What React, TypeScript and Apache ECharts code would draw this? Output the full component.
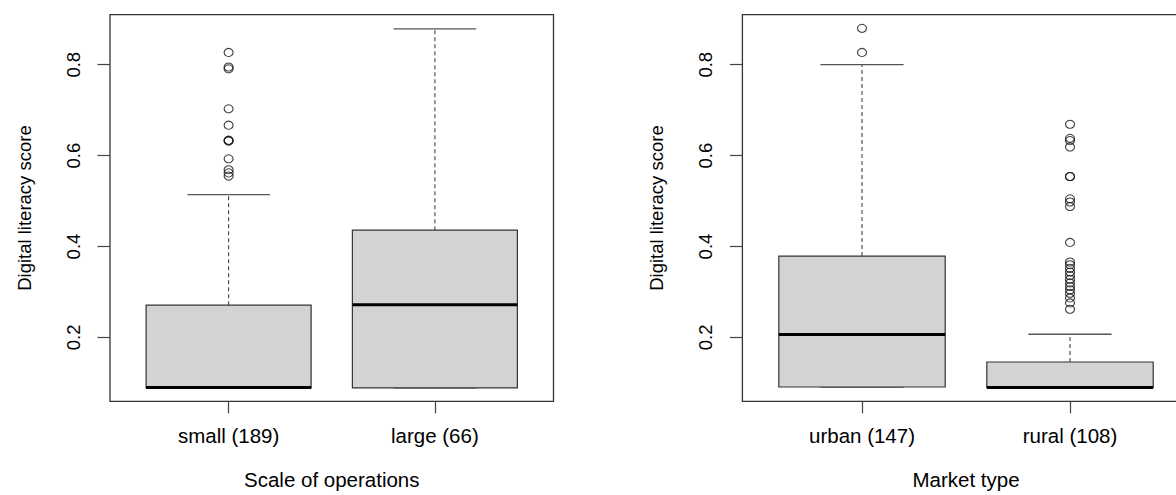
import React, { useEffect, useRef } from "react";
import * as echarts from "echarts";

const FONT = "'Liberation Sans', Arial, sans-serif";

// Left panel: scale of operations
const scaleCategories = ["small (189)", "large (66)"];
// [lower whisker, Q1, median, Q3, upper whisker]
const scaleStats = [
  [0.089, 0.089, 0.09, 0.271, 0.514],
  [0.089, 0.089, 0.272, 0.436, 0.879],
];
const scaleOutliers = [
  [0.827, 0.795, 0.791, 0.703, 0.667, 0.634, 0.633, 0.632, 0.593, 0.569, 0.562, 0.555],
  [],
];

// Right panel: market type
const marketCategories = ["urban (147)", "rural (108)"];
const marketStats = [
  [0.091, 0.091, 0.2065, 0.379, 0.8],
  [0.09, 0.09, 0.09, 0.146, 0.207],
];
const marketOutliers = [
  [0.88, 0.827],
  [
    0.669, 0.638, 0.633, 0.619, 0.554, 0.554, 0.505, 0.498, 0.488, 0.409, 0.366, 0.36,
    0.352, 0.344, 0.336, 0.328, 0.32, 0.312, 0.305, 0.297, 0.287, 0.276, 0.262,
  ],
];

const yTicks = [0.2, 0.4, 0.6, 0.8];
const xTicks = [1, 2];
const yTitle = "Digital literacy score";
const xTitles = ["Scale of operations", "Market type"];

const renderBox = (params: any, api: any) => {
  const x = api.value(0);
  const lo = api.value(1);
  const q1 = api.value(2);
  const med = api.value(3);
  const q3 = api.value(4);
  const hi = api.value(5);
  const half = api.size([0.8, 0])[0] / 2;
  const cap = api.size([0.4, 0])[0] / 2;
  const [cx, yLo] = api.coord([x, lo]);
  const yQ1 = api.coord([x, q1])[1];
  const yMed = api.coord([x, med])[1];
  const yQ3 = api.coord([x, q3])[1];
  const yHi = api.coord([x, hi])[1];
  const whisker = { stroke: "#444", lineWidth: 1.1, lineDash: [4, 3] };
  const capStyle = { stroke: "#555", lineWidth: 1.3 };
  return {
    type: "group",
    children: [
      { type: "line", shape: { x1: cx, y1: yQ3, x2: cx, y2: yHi }, style: whisker },
      { type: "line", shape: { x1: cx, y1: yQ1, x2: cx, y2: yLo }, style: whisker },
      { type: "line", shape: { x1: cx - cap, y1: yHi, x2: cx + cap, y2: yHi }, style: capStyle },
      { type: "line", shape: { x1: cx - cap, y1: yLo, x2: cx + cap, y2: yLo }, style: capStyle },
      {
        type: "rect",
        shape: { x: cx - half, y: yQ3, width: half * 2, height: yQ1 - yQ3 },
        style: { fill: "#d3d3d3", stroke: "#333", lineWidth: 1.2 },
      },
      {
        type: "line",
        shape: { x1: cx - half, y1: yMed, x2: cx + half, y2: yMed },
        style: { stroke: "#000", lineWidth: 3 },
      },
    ],
  };
};

const panels = [
  { cats: scaleCategories, stats: scaleStats, outliers: scaleOutliers, left: 110, width: 443.5 },
  { cats: marketCategories, stats: marketStats, outliers: marketOutliers, left: 742.4, width: 447.2 },
];

const buildOption = () => ({
  animation: false,
  backgroundColor: "#fff",
  textStyle: { fontFamily: FONT },
  grid: panels.map((p) => ({
    left: p.left,
    top: 14.7,
    width: p.width,
    height: 391.3,
    show: true,
    borderColor: "#333",
    borderWidth: 1.3,
    backgroundColor: "transparent",
  })),
  xAxis: panels.map((p, i) => ({
    gridIndex: i,
    type: "value",
    min: 0.425,
    max: 2.575,
    name: xTitles[i],
    nameLocation: "middle",
    nameGap: 67.6,
    nameTextStyle: { fontSize: 20.5, color: "#000", fontFamily: FONT },
    axisLine: { show: false },
    splitLine: { show: false },
    axisTick: { show: true, customValues: xTicks, length: 12, lineStyle: { color: "#444", width: 1.2 } },
    axisLabel: {
      customValues: xTicks,
      formatter: (v: number) => p.cats[Math.round(v) - 1],
      margin: 23.1,
      fontSize: 20.5,
      color: "#000",
      fontFamily: FONT,
    },
  })),
  yAxis: panels.map((p, i) => ({
    gridIndex: i,
    type: "value",
    min: 0.0593,
    max: 0.91,
    name: yTitle,
    nameLocation: "middle",
    nameRotate: 90,
    nameGap: 76,
    nameTextStyle: { fontSize: 18.5, color: "#000", fontFamily: FONT },
    axisLine: { show: false },
    splitLine: { show: false },
    axisTick: { show: true, customValues: yTicks, length: 12.5, lineStyle: { color: "#444", width: 1.2 } },
    axisLabel: {
      customValues: yTicks,
      formatter: (v: number) => v.toFixed(1),
      rotate: 90,
      margin: 27,
      fontSize: 18.5,
      color: "#000",
      fontFamily: FONT,
    },
  })),
  series: panels.flatMap((p, i) => [
    {
      type: "custom",
      xAxisIndex: i,
      yAxisIndex: i,
      renderItem: renderBox,
      encode: { x: 0, y: [1, 2, 3, 4, 5] },
      data: p.stats.map((s, k) => [k + 1, ...s]),
      z: 2,
    },
    {
      type: "scatter",
      xAxisIndex: i,
      yAxisIndex: i,
      symbol: "circle",
      symbolSize: [9, 8],
      itemStyle: { color: "transparent", borderColor: "#111", borderWidth: 1.1 },
      data: p.outliers.flatMap((vals, k) => vals.map((v) => [k + 1, v])),
      z: 3,
    },
  ]),
});

export default function App() {
  const ref = useRef<HTMLDivElement>(null);
  useEffect(() => {
    if (!ref.current) return;
    const chart = echarts.init(ref.current, null, { renderer: "svg" });
    chart.setOption(buildOption() as any);
    return () => chart.dispose();
  }, []);
  // The right panel's frame runs past the visible edge, so the chart is drawn
  // a little wider than the window and clipped.
  return (
    <div
      style={{
        position: "absolute",
        left: 0,
        top: 0,
        width: 1176,
        height: 495,
        overflow: "hidden",
        background: "#fff",
      }}
    >
      <div ref={ref} style={{ width: 1210, height: 495 }} />
    </div>
  );
}
